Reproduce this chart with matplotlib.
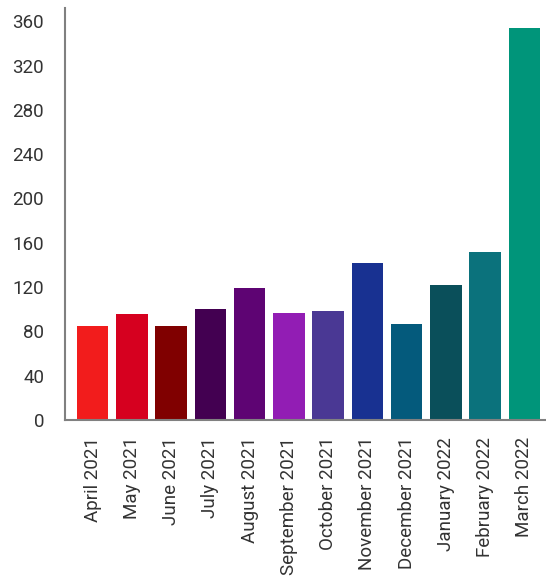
import matplotlib.pyplot as plt

months = ["April 2021", "May 2021", "June 2021", "July 2021", "August 2021",
          "September 2021", "October 2021", "November 2021", "December 2021",
          "January 2022", "February 2022", "March 2022"]
values = [85, 96, 85, 100, 119, 97, 98, 142, 87, 122, 152, 354]
colors = ["#F21C1C", "#D6001F", "#800000", "#430051", "#5E0473", "#921DB4",
          "#4A3894", "#183191", "#045A7C", "#0A4F5A", "#0B727C", "#00957A"]
yticks = [0, 40, 80, 120, 160, 200, 240, 280, 320, 360]

plt.rcParams["font.family"] = ["Roboto", "DejaVu Sans"]

fig = plt.figure(figsize=(5.46, 5.8), dpi=100)
ax = fig.add_axes([65/546, 1 - 420/580, 481/546, 412/580])

x = range(len(months))
ax.bar(x, values, width=0.8, color=colors)

ax.set_xlim(-0.705, 11.55)
ax.set_ylim(0, 372)
ax.set_yticks(yticks)
ax.set_xticks(list(x))
ax.set_xticklabels(months, rotation=90, fontsize=13.5, color="#333333")
ax.tick_params(axis="y", labelsize=13.5, labelcolor="#333333", length=0, pad=15)
ax.tick_params(axis="x", length=0, pad=12)

for s in ["top", "right"]:
    ax.spines[s].set_visible(False)
for s in ["left", "bottom"]:
    ax.spines[s].set_color("#808080")
    ax.spines[s].set_linewidth(1.5)

fig.savefig("out.png", dpi=100)
